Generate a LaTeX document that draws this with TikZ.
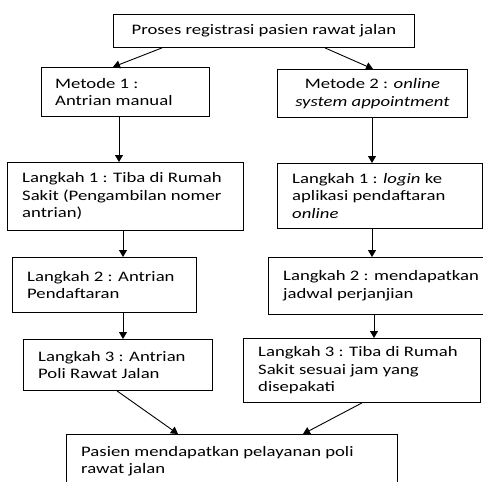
\documentclass[tikz,border=0pt]{standalone}
\usepackage{fontspec}
\setmainfont{Carlito}[FakeStretch=1.29]
\usetikzlibrary{arrows.meta}
\begin{document}
\begin{tikzpicture}[x=1pt,y=-1pt,
  every node/.style={font=\fontsize{14.5}{17.5}\selectfont},
  boxnode/.style={draw=black,line width=0.9pt,rectangle,anchor=north west,inner sep=0pt},
  txt/.style={anchor=west,align=left,inner sep=0pt},
  arr/.style={line width=0.9pt,-{Triangle[length=7pt,width=8pt]}}]
\useasboundingbox (0,0) rectangle (483,482);
% boxes
\node[boxnode,minimum width=301pt,minimum height=33pt,align=center] (top) at (113,14) {Proses registrasi pasien rawat jalan};
\node[boxnode,minimum width=168pt,minimum height=49pt] (m1) at (41,67) {};
\node[txt] (m1t) at ([xshift=14pt]m1.west) {Metode 1 :\\Antrian manual};
\node[boxnode,minimum width=190pt,minimum height=48pt,align=center] (m2) at (277,69) {Metode 2 : \textit{online}\\\textit{system appointment}};
\node[boxnode,minimum width=236pt,minimum height=68pt] (l1) at (7,162) {};
\node[txt] (l1t) at ([xshift=15pt]l1.west) {Langkah 1 : Tiba di Rumah\\Sakit (Pengambilan nomer\\antrian)};
\node[boxnode,minimum width=205pt,minimum height=65pt] (r1) at (277,163) {};
\node[txt] (r1t) at ([xshift=15pt]r1.west) {Langkah 1 : \textit{login} ke\\aplikasi pendaftaran\\\textit{online}};
\node[boxnode,minimum width=184pt,minimum height=55pt] (l2) at (12,257) {};
\node[txt] (l2t) at ([xshift=15pt]l2.west) {Langkah 2 : Antrian\\Pendaftaran};
\node[boxnode,minimum width=230pt,minimum height=57pt] (r2) at (268,257) {};
\node[txt] (r2t) at ([xshift=15pt]r2.west) {Langkah 2 : mendapatkan\\jadwal perjanjian};
\node[boxnode,minimum width=189pt,minimum height=51pt] (l3) at (23,339) {};
\node[txt] (l3t) at ([xshift=15pt]l3.west) {Langkah 3 : Antrian\\Poli Rawat Jalan};
\node[boxnode,minimum width=237pt,minimum height=64pt] (r3) at (243,338) {};
\node[txt] (r3t) at ([xshift=15pt]r3.west) {Langkah 3 : Tiba di Rumah\\Sakit sesuai jam yang\\disepakati};
\node[boxnode,minimum width=331pt,minimum height=70pt] (bot) at (66,434) {};
\node[txt] (bott) at ([shift={(15pt,-27pt)}]bot.north west) {Pasien mendapatkan pelayanan poli\\rawat jalan};
% connectors
\draw[arr] ([xshift=49pt]top.south west) -- ([xshift=72pt]m1.north west);
\draw[arr] ([xshift=212pt]top.south west) -- ([xshift=96pt]m2.north west);
\draw[arr] ([xshift=78pt]m1.south west) coordinate (a1) -- (a1 |- l1.north);
\draw[arr] ([xshift=95pt]m2.south west) coordinate (a2) -- (a2 |- r1.north);
\draw[arr] ([xshift=116pt]l1.south west) coordinate (a3) -- (a3 |- l2.north);
\draw[arr] ([xshift=95pt]r1.south west) coordinate (a4) -- (a4 |- r2.north);
\draw[arr] ([xshift=111pt]l2.south west) coordinate (a5) -- (a5 |- l3.north);
\draw[arr] ([xshift=106pt]r2.south west) coordinate (a6) -- (a6 |- r3.north);
\draw[arr] ([xshift=94pt]l3.south west) -- ([xshift=112pt]bot.north west);
\draw[arr] ([xshift=119pt]r3.south west) -- ([xshift=237pt]bot.north west);
\end{tikzpicture}
\end{document}
